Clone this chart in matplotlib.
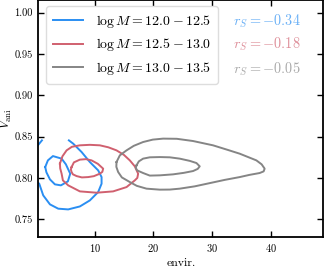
import matplotlib
matplotlib.use("Agg")
import matplotlib.pyplot as plt
import numpy as np

plt.rcParams['font.family'] = 'serif'
plt.rcParams['font.serif'] = ['cmr10', 'DejaVu Serif']
plt.rcParams['mathtext.fontset'] = 'cm'
plt.rcParams['axes.formatter.use_mathtext'] = True
plt.rcParams['axes.unicode_minus'] = False

labels = [r'$\log M = 12.0 - 12.5$', r'$\log M = 12.5 - 13.0$', r'$\log M = 13.0 - 13.5$']
colors = ['#2a8ef2', '#d0606f', '#858585']
rs_values = [-0.34, -0.18, -0.05]

# contour traces (envir., V_ani)
blue_outer_x = [0.2, 0.51, 1.19, 2.34, 3.75, 5.45, 7.45, 9.15, 10.57, 11.15, 11.15, 10.57, 9.15, 7.74, 6.31, 5.57]
blue_outer_y = [0.7950, 0.7932, 0.7791, 0.7682, 0.7630, 0.7621, 0.7657, 0.7730, 0.7831, 0.7932, 0.8012, 0.8093, 0.8194, 0.8315, 0.8416, 0.8456]
blue_piece_x = [0.1, 0.51, 0.97]
blue_piece_y = [0.8380, 0.8416, 0.8456]
blue_inner_x = [1.53, 1.99, 2.85, 4.33, 5.06, 5.80, 5.40, 4.21, 3.19, 2.34, 1.74]
blue_inner_y = [0.8133, 0.8214, 0.8266, 0.8235, 0.8166, 0.8053, 0.7960, 0.7912, 0.7924, 0.7984, 0.8069]

red_outer_x = [4.04, 4.47, 5.18, 6.08, 7.45, 9.15, 10.86, 12.31, 13.70, 14.95, 15.97, 16.82, 17.39, 17.25, 16.82,
               15.41, 13.12, 10.30, 7.45, 5.45, 4.55, 4.33, 4.09]
red_outer_y = [0.8174, 0.8263, 0.8335, 0.8378, 0.8396, 0.8402, 0.8396, 0.8372, 0.8335, 0.8281, 0.8214, 0.8142, 0.8053,
               0.8002, 0.7972, 0.7891, 0.7839, 0.7823, 0.7839, 0.7912, 0.7972, 0.8053, 0.8117]
red_inner_x = [6.03, 6.43, 7.45, 8.47, 9.44, 10.52, 11.42, 11.28, 10.86, 9.83, 8.86, 7.79, 6.89, 6.26, 6.03, 5.91]
red_inner_y = [0.8133, 0.8190, 0.8223, 0.8229, 0.8214, 0.8172, 0.8114, 0.8075, 0.8053, 0.8023, 0.8012, 0.8008,
               0.8024, 0.8045, 0.8073, 0.8105]

gray_outer_x = [13.70, 14.27, 15.41, 16.65, 18.24, 19.89, 21.65, 23.98, 26.76, 30.17, 32.67, 34.72, 37.57, 38.47,
                38.98, 38.81, 38.13, 36.42, 34.72, 32.16, 29.61, 27.05, 24.49, 22.79, 21.09, 18.82, 17.16, 15.97,
                14.61, 13.98, 13.67]
gray_outer_y = [0.8194, 0.8275, 0.8335, 0.8390, 0.8436, 0.8465, 0.8477, 0.8475, 0.8448, 0.8396, 0.8341, 0.8295,
                0.8214, 0.8166, 0.8114, 0.8081, 0.8061, 0.8039, 0.8012, 0.7978, 0.7939, 0.7900, 0.7872, 0.7861,
                0.7860, 0.7872, 0.7906, 0.7952, 0.8008, 0.8073, 0.8136]
gray_inner_x = [17.11, 17.51, 18.24, 19.38, 21.09, 22.79, 24.49, 26.20, 27.34, 27.90, 27.56, 26.76, 25.17, 23.35,
                21.09, 19.38, 18.24, 17.22, 16.99]
gray_inner_y = [0.8154, 0.8202, 0.8235, 0.8251, 0.8254, 0.8251, 0.8235, 0.8208, 0.8182, 0.8142, 0.8111, 0.8085,
                0.8063, 0.8045, 0.8033, 0.8030, 0.8061, 0.8093, 0.8123]

xticks = [10, 20, 30, 40]
yticks = [0.75, 0.80, 0.85, 0.90, 0.95, 1.00]

fig = plt.figure(figsize=(3.24, 2.70), dpi=100)
ax = fig.add_axes([0.118, 0.123, 0.880, 0.876])

def closed(x, y):
    return list(x) + [x[0]], list(y) + [y[0]]

lw = 1.4
ax.plot(blue_outer_x, blue_outer_y, color=colors[0], lw=lw, label=labels[0])
ax.plot(blue_piece_x, blue_piece_y, color=colors[0], lw=lw)
ax.plot(*closed(blue_inner_x, blue_inner_y), color=colors[0], lw=lw)
ax.plot(*closed(red_outer_x, red_outer_y), color=colors[1], lw=lw, label=labels[1])
ax.plot(*closed(red_inner_x, red_inner_y), color=colors[1], lw=lw)
ax.plot(*closed(gray_outer_x, gray_outer_y), color=colors[2], lw=lw, label=labels[2])
ax.plot(*closed(gray_inner_x, gray_inner_y), color=colors[2], lw=lw)

ax.set_xlim(0.34, 49)
ax.set_ylim(0.729, 1.015)
ax.set_xticks(xticks)
ax.set_yticks(yticks)
ax.set_yticklabels(['%.2f' % v for v in yticks])
ax.tick_params(direction='in', top=True, right=True, length=4, width=1.0, labelsize=7.5, pad=4)
for s in ax.spines.values():
    s.set_linewidth(1.3)

ax.set_xlabel('envir.', fontsize=8.5, labelpad=3)
ax.set_ylabel(r'$V_{\rm ani}$', fontsize=9, labelpad=0)

leg = ax.legend(loc='upper left', bbox_to_anchor=(0.027, 0.975), borderaxespad=0, fontsize=10,
                handlelength=2.2, handletextpad=0.9, labelspacing=0.45, frameon=True, fancybox=True,
                edgecolor='#dddddd', framealpha=1.0, borderpad=0.5)

ypos = [0.911, 0.814, 0.708]
for i, r in enumerate(rs_values):
    ax.text(0.683, ypos[i], r'$r_S = %.2f$' % r, transform=ax.transAxes, color=colors[i], alpha=0.7,
            fontsize=10.3, va='center', ha='left')

fig.savefig('out.png', dpi=100)
